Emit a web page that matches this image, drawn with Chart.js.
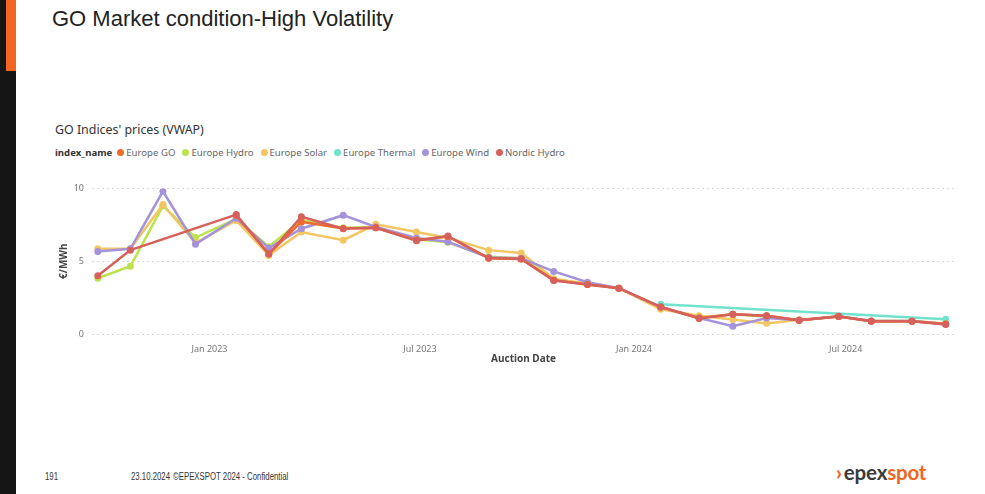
<!DOCTYPE html>
<html>
<head>
<meta charset="utf-8">
<title>GO Market condition-High Volatility</title>
<script src="https://cdn.jsdelivr.net/npm/chart.js@4.4.1/dist/chart.umd.min.js"></script>
<style>
  html, body { margin: 0; padding: 0; background: #fff; }
  body { width: 985px; height: 494px; position: relative; overflow: hidden;
         font-family: 'Liberation Sans', Arial, sans-serif; }
  .bar-black { position: absolute; left: 0; top: 0; width: 16px; height: 494px; background: #151515; }
  .bar-orange { position: absolute; left: 6px; top: 0; width: 10px; height: 71px; background: #F26522; }
  h1 { position: absolute; left: 52px; top: 6px; margin: 0; font-weight: normal;
       font-size: 22px; color: #222; white-space: nowrap; }
  .ctitle { position: absolute; left: 55px; top: 121px; font-family: 'Noto Sans', sans-serif;
            font-size: 12.4px; color: #333; white-space: nowrap; }
  .legend { position: absolute; left: 55px; top: 146px; display: flex; align-items: center;
            font-family: 'Noto Sans', sans-serif; font-size: 9.6px; color: #666; white-space: nowrap; }
  .legend .lt { font-weight: bold; color: #333; margin-right: 5px; }
  .legend .it { display: flex; align-items: center; margin-right: 7px; }
  .legend .dot { width: 7px; height: 7px; border-radius: 50%; margin-right: 2px; }
  #wrap { position: absolute; left: 40px; top: 175px; width: 925px; height: 194px; }
  .foot { position: absolute; top: 471px; font-size: 10px; color: #333; white-space: nowrap;
          transform: scaleX(0.78); transform-origin: left center; }
  .logo { position: absolute; left: 836px; top: 460px; font-family: Lato, sans-serif; font-weight: 700;
          font-size: 20.5px; white-space: nowrap; letter-spacing: -0.2px; }
  .logo .chev { color: #F26522; margin-right: 2px; font-weight: 900; }
  .logo .a { color: #3a3a3a; }
  .logo .b { color: #F26522; }
</style>
</head>
<body>
<div class="bar-black"></div>
<div class="bar-orange"></div>
<h1>GO Market condition-High Volatility</h1>
<div class="ctitle">GO Indices' prices (VWAP)</div>
<div class="legend" id="legend"><span class="lt">index_name</span></div>
<div id="wrap"><canvas id="c" width="925" height="194"></canvas></div>
<div class="foot" style="left:45px">191</div>
<div class="foot" style="left:131px">23.10.2024</div>
<div class="foot" style="left:173px">©EPEXSPOT 2024 - Confidential</div>
<div class="logo"><span class="chev">›</span><span class="a">epex</span><span class="b">spot</span></div>

<script>
// Monthly auction dates
const auctionDates = [
  '2022-09-27', '2022-10-25', '2022-11-22', '2022-12-20',
  '2023-01-24', '2023-02-21', '2023-03-21', '2023-04-26', '2023-05-24', '2023-06-28',
  '2023-07-25', '2023-08-29', '2023-09-26', '2023-10-24', '2023-11-22', '2023-12-19',
  '2024-01-24', '2024-02-26', '2024-03-26', '2024-04-24', '2024-05-22', '2024-06-25',
  '2024-07-23', '2024-08-27', '2024-09-25'
];

// VWAP per index, €/MWh (null = no auction result)
const europeGO = [null, null, null, null,
  8.15, 5.5, 7.7, 7.25, 7.3, 6.45, 6.7, 5.2, 5.15, 3.7, 3.4, 3.15,
  1.85, 1.1, 1.35, 1.25, 0.95, 1.2, 0.88, 0.88, 0.68];
const europeHydro = [3.83, 4.65, 8.8, 6.62,
  7.9, 6.0, 7.8, 7.3, 7.35, 6.5, 6.3, 5.3, 5.2, 3.75, 3.45, 3.15,
  1.8, 1.1, 1.35, 1.2, 0.95, 1.2, 0.9, 0.9, 0.7];
const europeSolar = [5.85, 5.85, 8.9, 6.25,
  7.8, 5.4, 7.0, 6.44, 7.53, 7.0, 6.6, 5.76, 5.56, 3.8, 3.45, 3.15,
  1.7, 1.25, 1.0, 0.73, 0.98, 1.2, 0.9, 0.9, 0.7];
const europeThermal = [null, null, null, null,
  null, null, null, null, null, null, null, null, null, null, null, null,
  2.04, null, null, null, null, null, null, null, 1.02];
const europeWind = [5.67, 5.85, 9.8, 6.17,
  7.95, 5.9, 7.23, 8.16, 7.35, 6.6, 6.33, 5.25, 5.2, 4.3, 3.56, 3.15,
  1.85, 1.1, 0.54, 1.1, 0.95, 1.2, 0.9, 0.9, 0.68];
const nordicHydro = [4.0, 5.76, null, null,
  8.2, 5.49, 8.05, 7.23, 7.3, 6.4, 6.73, 5.22, 5.15, 3.67, 3.4, 3.15,
  1.86, 1.07, 1.36, 1.25, 0.95, 1.22, 0.88, 0.88, 0.66];

// Axis ticks and range
const xTickDates = ['2023-01-01', '2023-07-01', '2024-01-01', '2024-07-01'];
const xTickLabels = ['Jan 2023', 'Jul 2023', 'Jan 2024', 'Jul 2024'];
const xMin = '2022-09-22';
const xMax = '2024-10-03';
const yTicks = [0, 5, 10];

const ts = d => Date.parse(d + 'T00:00:00Z');
const toPoints = vals => auctionDates.map((d, i) => ({ x: ts(d), y: vals[i] }));

const seriesDefs = [
  { label: 'Europe GO',      data: europeGO,      color: '#EC6B2D', order: 2 },
  { label: 'Europe Hydro',   data: europeHydro,   color: '#BCE24E', order: 5 },
  { label: 'Europe Solar',   data: europeSolar,   color: '#F3C662', order: 4 },
  { label: 'Europe Thermal', data: europeThermal, color: '#72E2CD', order: 6 },
  { label: 'Europe Wind',    data: europeWind,    color: '#A593DA', order: 3 },
  { label: 'Nordic Hydro',   data: nordicHydro,   color: '#D6615C', order: 1 }
];

const datasets = seriesDefs.map(s => ({
  label: s.label,
  data: toPoints(s.data),
  borderColor: s.color,
  backgroundColor: s.color,
  pointBackgroundColor: s.color,
  pointBorderColor: s.color,
  pointBorderWidth: 0,
  pointRadius: 3.5,
  borderWidth: 2.5,
  tension: 0,
  spanGaps: true,
  order: s.order
}));

const chart = new Chart(document.getElementById('c'), {
  type: 'line',
  data: { datasets },
  options: {
    responsive: false,
    animation: false,
    layout: { padding: { top: 12, right: 10, left: 0, bottom: 0 } },
    plugins: { legend: { display: false }, tooltip: { enabled: false } },
    scales: {
      x: {
        type: 'linear',
        min: ts(xMin),
        max: ts(xMax),
        grid: { display: false },
        border: { display: false },
        afterBuildTicks: s => { s.ticks = xTickDates.map(d => ({ value: ts(d) })); },
        afterFit: s => { s.height = 35; },
        ticks: {
          autoSkip: false, maxRotation: 0, padding: 2, color: '#777',
          font: { family: 'Noto Sans', size: 9 },
          callback: (v, i) => xTickLabels[i]
        },
        title: {
          display: true, text: 'Auction Date', color: '#444',
          font: { family: 'Noto Sans', size: 10, weight: 'bold' },
          padding: { top: 4, bottom: 4 }
        }
      },
      y: {
        min: yTicks[0],
        max: yTicks[yTicks.length - 1],
        afterBuildTicks: s => { s.ticks = yTicks.map(v => ({ value: v })); },
        afterFit: s => { s.width = 52; },
        grid: { color: '#d9d9d9', lineWidth: 1, drawTicks: false },
        border: { display: false, dash: [2, 3] },
        ticks: { padding: 8, color: '#777', font: { family: 'Noto Sans', size: 9 } },
        title: {
          display: true, text: '€/MWh', color: '#444',
          font: { family: 'Noto Sans', size: 10, weight: 'bold' },
          padding: { top: 18, bottom: 4 }
        }
      }
    }
  }
});

// Inline legend built from the chart's datasets
const legend = document.getElementById('legend');
chart.data.datasets.forEach(ds => {
  const it = document.createElement('span');
  it.className = 'it';
  const dot = document.createElement('span');
  dot.className = 'dot';
  dot.style.background = ds.borderColor;
  const tx = document.createElement('span');
  tx.textContent = ds.label;
  it.appendChild(dot);
  it.appendChild(tx);
  legend.appendChild(it);
});
</script>
</body>
</html>
